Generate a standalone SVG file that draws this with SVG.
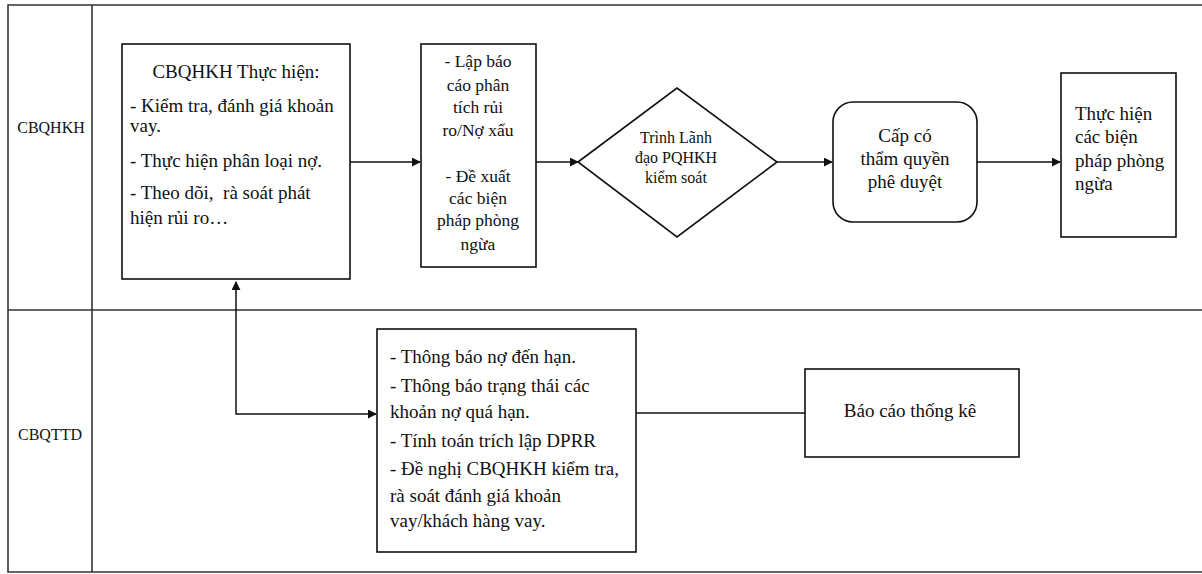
<svg xmlns="http://www.w3.org/2000/svg" width="1202" height="574" viewBox="0 0 1202 574">
  <style>
    .lane { fill: none; stroke: #333; stroke-width: 1.6; }
    .box { fill: #fff; stroke: #111; stroke-width: 1.6; }
    .conn { fill: none; stroke: #111; stroke-width: 1.5; }
    text { font-family: "Liberation Serif", "Times New Roman", serif; fill: #111; }
    .t19 { font-size: 19px; }
    .t17 { font-size: 17.5px; }
    .t16 { font-size: 16px; }
    .mid { text-anchor: middle; }
  </style>
  <defs>
    <marker id="arrow" viewBox="0 0 10 10" refX="9" refY="5" markerWidth="9" markerHeight="9" markerUnits="userSpaceOnUse" orient="auto-start-reverse">
      <path d="M0,0 L10,5 L0,10 z" fill="#111"/>
    </marker>
  </defs>

  <rect width="1202" height="574" fill="#fff"/>

  <!-- swimlane frame -->
  <g id="lanes">
    <path class="lane" d="M1204,5 H8 V572 H1204"/>
    <line class="lane" x1="92" y1="5" x2="92" y2="572"/>
    <line class="lane" x1="8" y1="310" x2="1204" y2="310"/>
    <text class="t16 mid" x="51" y="133">CBQHKH</text>
    <text class="t16 mid" x="50" y="440">CBQTTD</text>
  </g>

  <!-- connectors -->
  <g id="connectors">
    <line class="conn" x1="350" y1="162" x2="420" y2="162" marker-end="url(#arrow)"/>
    <line class="conn" x1="536" y1="162" x2="578" y2="162" marker-end="url(#arrow)"/>
    <line class="conn" x1="777" y1="162" x2="832" y2="162" marker-end="url(#arrow)"/>
    <line class="conn" x1="977" y1="162" x2="1060" y2="162" marker-end="url(#arrow)"/>
    <path class="conn" d="M236,282 V414 H376" marker-start="url(#arrow)" marker-end="url(#arrow)"/>
    <line class="conn" x1="636" y1="413" x2="805" y2="413"/>
  </g>

  <g id="n-cbqhkh-task">
    <rect class="box" x="122" y="44" width="228" height="235"/>
    <text class="t19 mid" x="236" y="78">CBQHKH Thực hiện:</text>
    <text class="t19" x="130" y="112">- Kiểm tra, đánh giá khoản</text>
    <text class="t19" x="130" y="132">vay.</text>
    <text class="t19" x="130" y="167">- Thực hiện phân loại nợ.</text>
    <text class="t19" x="130" y="199">- Theo dõi,&#160; rà soát phát</text>
    <text class="t19" x="130" y="224">hiện rủi ro…</text>
  </g>

  <g id="n-report">
    <rect class="box" x="421" y="44" width="115" height="223"/>
    <text class="t17 mid" x="478" y="67">- Lập báo</text>
    <text class="t17 mid" x="478" y="91">cáo phân</text>
    <text class="t17 mid" x="478" y="113">tích rủi</text>
    <text class="t17 mid" x="478" y="136">ro/Nợ xấu</text>
    <text class="t17 mid" x="478" y="182">- Đề xuất</text>
    <text class="t17 mid" x="478" y="204">các biện</text>
    <text class="t17 mid" x="478" y="226">pháp phòng</text>
    <text class="t17 mid" x="478" y="250">ngừa</text>
  </g>

  <g id="n-review">
    <polygon class="box" points="578,162 677,88 777,162 677,237"/>
    <text class="t16 mid" x="676" y="143">Trình Lãnh</text>
    <text class="t16 mid" x="676" y="163">đạo PQHKH</text>
    <text class="t16 mid" x="676" y="183">kiểm soát</text>
  </g>

  <g id="n-approve">
    <rect class="box" x="833" y="102" width="144" height="120" rx="20" ry="20"/>
    <text class="t19 mid" x="905" y="142">Cấp có</text>
    <text class="t19 mid" x="905" y="165">thẩm quyền</text>
    <text class="t19 mid" x="905" y="188">phê duyệt</text>
  </g>

  <g id="n-prevent">
    <rect class="box" x="1061" y="73" width="115" height="164"/>
    <text class="t19" x="1075" y="120">Thực hiện</text>
    <text class="t19" x="1075" y="143">các biện</text>
    <text class="t19" x="1075" y="167">pháp phòng</text>
    <text class="t19" x="1075" y="190">ngừa</text>
  </g>

  <g id="n-cbqttd-task">
    <rect class="box" x="377" y="329" width="259" height="223"/>
    <text class="t19" x="390" y="363">- Thông báo nợ đến hạn.</text>
    <text class="t19" x="390" y="392">- Thông báo trạng thái các</text>
    <text class="t19" x="390" y="418">khoản nợ quá hạn.</text>
    <text class="t19" x="390" y="447">- Tính toán trích lập DPRR</text>
    <text class="t19" x="390" y="475">- Đề nghị CBQHKH kiểm tra,</text>
    <text class="t19" x="390" y="502">rà soát đánh giá khoản</text>
    <text class="t19" x="390" y="527">vay/khách hàng vay.</text>
  </g>

  <g id="n-stats">
    <rect class="box" x="805" y="369" width="214" height="88"/>
    <text class="t19 mid" x="910" y="417">Báo cáo thống kê</text>
  </g>
</svg>
